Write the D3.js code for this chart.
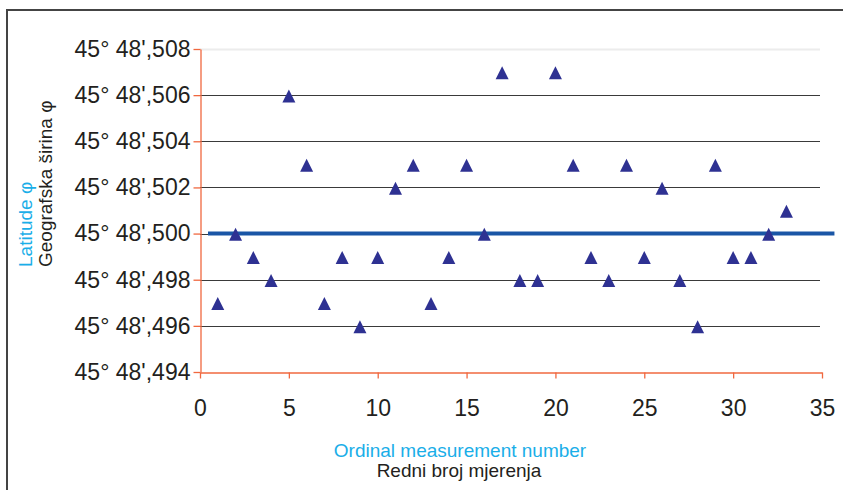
<!DOCTYPE html>
<html>
<head>
<meta charset="utf-8">
<script src="https://cdn.jsdelivr.net/npm/d3@7"></script>
<style>
  html, body { margin: 0; padding: 0; background: #fff; }
  svg { display: block; font-family: "Liberation Sans", Arial, Helvetica, sans-serif; }
</style>
</head>
<body>
<svg id="chart" width="843" height="490"></svg>
<script>
// Measurement ordinal numbers
const measurementNo = d3.range(1, 34);
// Latitude readings, thousandths of an arc minute after 45° 48'
const latitudeThousandths = [
  497, 500, 499, 498, 506, 503, 497, 499, 496, 499,
  502, 503, 497, 499, 503, 500, 507, 498, 498, 507,
  503, 499, 498, 503, 499, 502, 498, 496, 503, 499,
  499, 500, 501
];
// Reference latitude (mean line) and its span along the x axis
const referenceLatitude = 500;
const referenceSpan = [0.45, 35.7];
// Axis ticks
const xTicks = [0, 5, 10, 15, 20, 25, 30, 35];
const yTicks = [494, 496, 498, 500, 502, 504, 506, 508];
const yTickLabels = ["45° 48',494", "45° 48',496", "45° 48',498", "45° 48',500",
                     "45° 48',502", "45° 48',504", "45° 48',506", "45° 48',508"];
// Axis titles
const yTitleEn = "Latitude φ";
const yTitleHr = "Geografska širina φ";
const xTitleEn = "Ordinal measurement number";
const xTitleHr = "Redni broj mjerenja";

const axisColor = "#f0683f";
const cyan = "#1aaee8";
const markerColor = "#2e3192";
const refColor = "#1a56a6";

const svg = d3.select("#chart");

// Outer frame
svg.append("rect")
  .attr("x", 7).attr("y", 10)
  .attr("width", 860).attr("height", 500)
  .attr("fill", "none").attr("stroke", "#444").attr("stroke-width", 2);

const plot = { left: 200, right: 822, top: 49, bottom: 372 };

const x = d3.scaleLinear().domain([0, 35]).range([plot.left, plot.right]);
const y = d3.scaleLinear().domain([494, 508]).range([plot.bottom, plot.top]);

// Horizontal gridlines
svg.append("g")
  .selectAll("line")
  .data(yTicks.filter(v => v !== 494))
  .join("line")
  .attr("x1", plot.left).attr("x2", x(35) - 2)
  .attr("y1", d => Math.round(y(d)) + 0.5).attr("y2", d => Math.round(y(d)) + 0.5)
  .attr("stroke", d => d === 508 ? "#ececec" : "#3a3a3a")
  .attr("stroke-width", d => d === 508 ? 2 : 1);

// Y axis
const yAxis = d3.axisLeft(y)
  .tickValues(yTicks)
  .tickFormat((d, i) => yTickLabels[i])
  .tickSize(7)
  .tickSizeOuter(0)
  .tickPadding(3);

const gy = svg.append("g")
  .attr("transform", `translate(${plot.left + 0.5},0)`)
  .call(yAxis);
gy.select(".domain").attr("stroke", axisColor).attr("stroke-width", 1.3);
gy.selectAll(".tick line").attr("stroke", axisColor).attr("stroke-width", 1.3);
gy.selectAll(".tick text")
  .attr("font-size", 23)
  .attr("fill", "#231f20")
  .attr("font-family", "\"Liberation Sans\", Arial, sans-serif");

// X axis
const xAxis = d3.axisBottom(x)
  .tickValues(xTicks)
  .tickFormat(d3.format("d"))
  .tickSize(6)
  .tickSizeOuter(0)
  .tickPadding(21);

const gx = svg.append("g")
  .attr("transform", `translate(0,${plot.bottom + 0.5})`)
  .call(xAxis);
gx.select(".domain").attr("stroke", axisColor).attr("stroke-width", 1.3);
gx.selectAll(".tick line").attr("stroke", axisColor).attr("stroke-width", 1.3);
gx.selectAll(".tick text")
  .attr("font-size", 23)
  .attr("fill", "#231f20")
  .attr("font-family", "\"Liberation Sans\", Arial, sans-serif");

// Reference latitude line
svg.append("line")
  .attr("x1", x(referenceSpan[0])).attr("x2", x(referenceSpan[1]))
  .attr("y1", y(referenceLatitude)).attr("y2", y(referenceLatitude))
  .attr("stroke", refColor).attr("stroke-width", 4);

// Triangle markers
const tri = "M0,-6.5L6.5,6.5L-6.5,6.5Z";
svg.append("g")
  .selectAll("path")
  .data(measurementNo.map((n, i) => ({ n, v: latitudeThousandths[i] })))
  .join("path")
  .attr("transform", d => `translate(${x(d.n)},${y(d.v) + 0.8})`)
  .attr("d", tri)
  .attr("fill", markerColor);

// Y axis titles
svg.append("text")
  .attr("transform", "translate(32,267) rotate(-90)")
  .attr("font-size", 19)
  .attr("fill", cyan)
  .text(yTitleEn);
svg.append("text")
  .attr("transform", "translate(52,267) rotate(-90)")
  .attr("font-size", 19)
  .attr("fill", "#231f20")
  .text(yTitleHr);

// X axis titles
svg.append("text")
  .attr("x", 460).attr("y", 457)
  .attr("text-anchor", "middle")
  .attr("font-size", 19)
  .attr("fill", cyan)
  .text(xTitleEn);
svg.append("text")
  .attr("x", 459).attr("y", 477)
  .attr("text-anchor", "middle")
  .attr("font-size", 19)
  .attr("fill", "#231f20")
  .text(xTitleHr);
</script>
</body>
</html>
